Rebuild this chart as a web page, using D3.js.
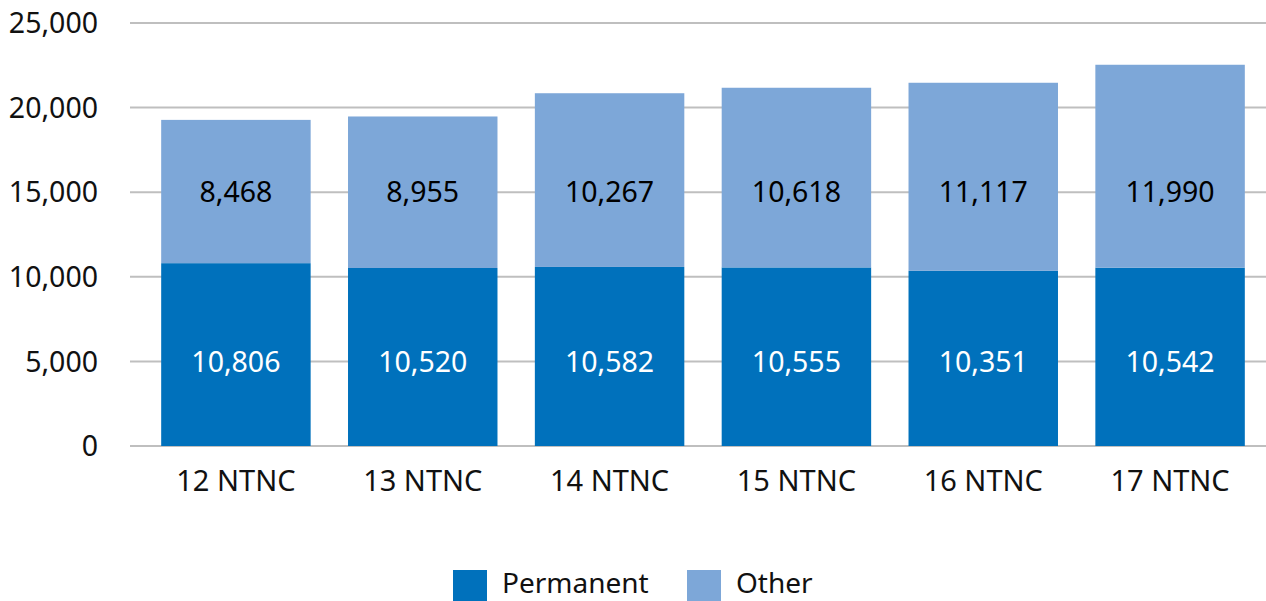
<!DOCTYPE html>
<html>
<head>
<meta charset="utf-8">
<script src="https://cdn.jsdelivr.net/npm/d3@7"></script>
<style>
  body { margin: 0; background: #fff; }
  text { font-family: "Noto Sans", "Open Sans", sans-serif; }
</style>
</head>
<body>
<script>
const categories = ['12 NTNC', '13 NTNC', '14 NTNC', '15 NTNC', '16 NTNC', '17 NTNC'];
const permanent = [10806, 10520, 10582, 10555, 10351, 10542];
const other = [8468, 8955, 10267, 10618, 11117, 11990];
const yTicks = [0, 5000, 10000, 15000, 20000, 25000];
const seriesNames = ['Permanent', 'Other'];

const width = 1266;
const height = 601;
const colors = { Permanent: '#0071bc', Other: '#7da7d8' };

const svg = d3.select('body').append('svg')
  .attr('width', width)
  .attr('height', height);

const x = d3.scaleBand()
  .domain(categories)
  .range([142.5, 1263.5])
  .paddingInner(0.2)
  .paddingOuter(0.1);

const y = d3.scaleLinear()
  .domain([0, 25000])
  .range([446, 23]);

const fmt = d3.format(',');

// gridlines
svg.append('g')
  .selectAll('line')
  .data(yTicks)
  .enter()
  .append('line')
  .attr('x1', 130)
  .attr('x2', width)
  .attr('y1', d => y(d))
  .attr('y2', d => y(d))
  .attr('stroke', '#bfbfbf')
  .attr('stroke-width', 2);

// y tick labels
svg.append('g')
  .selectAll('text')
  .data(yTicks)
  .enter()
  .append('text')
  .attr('x', 98)
  .attr('y', d => y(d))
  .attr('dy', '0.36em')
  .attr('text-anchor', 'end')
  .attr('font-size', 28.5)
  .attr('fill', '#111')
  .text(d => fmt(d));

const rows = categories.map((c, i) => ({ cat: c, Permanent: permanent[i], Other: other[i] }));
const stacked = d3.stack().keys(seriesNames)(rows);

const layer = svg.append('g')
  .selectAll('g')
  .data(stacked)
  .enter()
  .append('g')
  .attr('fill', d => colors[d.key]);

layer.selectAll('rect')
  .data(d => d)
  .enter()
  .append('rect')
  .attr('x', d => x(d.data.cat))
  .attr('width', x.bandwidth())
  .attr('y', d => y(d[1]))
  .attr('height', d => y(d[0]) - y(d[1]));

// value labels (placed at a fixed level per series, as in the original)
const labelLevel = { Permanent: 5000, Other: 15000 };
const labelColor = { Permanent: '#fff', Other: '#000' };

stacked.forEach(s => {
  svg.append('g')
    .selectAll('text')
    .data(s)
    .enter()
    .append('text')
    .attr('x', d => x(d.data.cat) + x.bandwidth() / 2)
    .attr('y', y(labelLevel[s.key]))
    .attr('dy', '0.36em')
    .attr('text-anchor', 'middle')
    .attr('font-size', 28.5)
    .attr('fill', labelColor[s.key])
    .text(d => fmt(d.data[s.key]));
});

// category labels
svg.append('g')
  .selectAll('text')
  .data(categories)
  .enter()
  .append('text')
  .attr('x', d => x(d) + x.bandwidth() / 2)
  .attr('y', 481)
  .attr('dy', '0.36em')
  .attr('text-anchor', 'middle')
  .attr('font-size', 29)
  .attr('fill', '#111')
  .text(d => d);

// legend
const legendX = [453, 687];
const legend = svg.append('g')
  .selectAll('g')
  .data(seriesNames)
  .enter()
  .append('g')
  .attr('transform', (d, i) => `translate(${legendX[i]}, 570)`);

legend.append('rect')
  .attr('width', 34)
  .attr('height', 34)
  .attr('fill', d => colors[d]);

legend.append('text')
  .attr('x', 49)
  .attr('y', 23)
  .attr('font-size', 28)
  .attr('fill', '#111')
  .text(d => d);
</script>
</body>
</html>
